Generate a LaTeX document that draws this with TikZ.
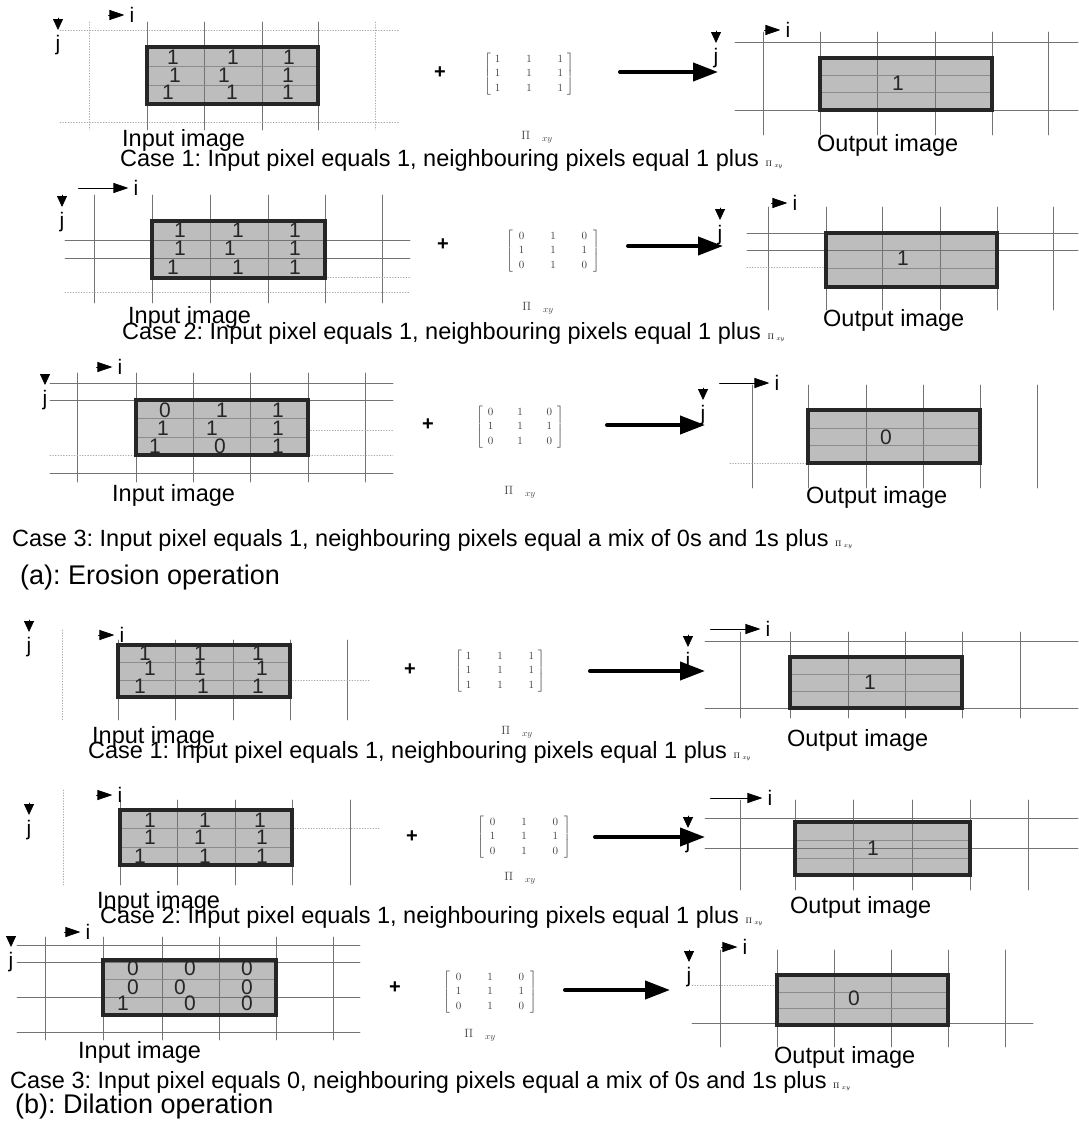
\documentclass[tikz,border=0pt]{standalone}
\usepackage{fontspec}
\setmainfont{Liberation Sans}
\usetikzlibrary{arrows.meta}
\frenchspacing

\begin{document}
\begin{tikzpicture}[x=1pt, y=-1pt, line cap=round,
    gline/.style={black!55, line width=0.7pt},
    fline/.style={black!35, line width=0.7pt, dotted},
    inline/.style={black!45, line width=0.5pt},
    boxfill/.style={fill=black!26},
    boxedge/.style={draw=black!85, line width=4.5pt, line cap=butt},
    lbl/.style={font=\fontsize{23.5}{26}\selectfont, inner sep=0pt, anchor=west},
    heading/.style={font=\fontsize{27}{30}\selectfont, inner sep=0pt, anchor=west},
    num/.style={font=\fontsize{21}{23}\selectfont, text=black!85, inner sep=0pt},
    axlbl/.style={font=\fontsize{21}{23}\selectfont, inner sep=5pt},
    plussign/.style={font=\fontsize{20}{20}\selectfont\bfseries, inner sep=0pt},
    mat/.style={font=\fontsize{11}{14.5}\selectfont, text=black!75, inner sep=0pt},
    pilbl/.style={font=\fontsize{13}{14}\selectfont, text=black!75, inner sep=0pt},
    iarrow/.style={line width=0.8pt, -{Triangle[length=15pt,width=10pt]}},
    jarrow/.style={line width=0.8pt, -{Triangle[length=11pt,width=10pt]}},
    bigarrow/.style={line width=4pt, -{Triangle[length=25pt,width=18pt]}}]

  \useasboundingbox (0,0) rectangle (1078,1123);

  % ================= (a) erosion, case 1 =================
  % input image
  \fill[boxfill] (147,47) rectangle (318,104);
  \foreach \x in {147,204,262,318} \draw[gline] (\x,22) -- (\x,130);
  \foreach \x in {89,375} \draw[fline] (\x,22) -- (\x,130);
  \foreach \y in {30,122} \draw[fline] (60,\y) -- (400,\y);
  \foreach \y in {66,85} \draw[inline] (147,\y) -- (318,\y);
  \draw[boxedge] (147,47) rectangle (318,104);
  \foreach \x/\y/\v [count=\k] in {173/57/1,233/57/1,289/57/1,175/75/1,224/75/1,288/75/1,168/92/1,232/92/1,288/92/1}
    \node[num] (a1n\k) at (\x,\y) {\v};
  \node[axlbl] (a1i) at (132,15) {i};
  \draw[iarrow] ([xshift=-16pt]a1i.west) -- (a1i.west);
  \node[axlbl] (a1j) at (58,45) {j};
  \draw[jarrow] ([yshift=12pt]a1j.north) -- (a1j.north);
  \node[lbl] (a1in) at (122,140) {Input image};
  \node[lbl] (a1cap) at (120,160) {Case 1: Input pixel equals 1, neighbouring pixels equal 1 plus {\fontsize{8}{8}\selectfont$\Pi\;_{xy}$}};
  % kernel
  \node[plussign] (a1plus) at (440,73) {+};
  \node[mat] (a1m) at (529,74) {$\left[\begin{array}{@{\hspace{4pt}}c@{\hspace{26pt}}c@{\hspace{26pt}}c@{\hspace{4pt}}}1&1&1\\1&1&1\\1&1&1\end{array}\right]$};
  \node[pilbl] (a1p) at (537,137) {$\Pi_{\hspace{12pt}xy}$};
  \coordinate (a1s) at (620,72);
  \coordinate (a1e) at (718,72);
  \draw[bigarrow] (a1s) -- (a1e);
  % output image
  \fill[boxfill] (820,58) rectangle (992,110);
  \foreach \x in {763,820,877,935,992,1048} \draw[gline] (\x,32) -- (\x,135);
  \foreach \y in {42,110} \draw[gline] (735,\y) -- (1078,\y);
  \foreach \y in {75,92} \draw[inline] (820,\y) -- (992,\y);
  \draw[boxedge] (820,58) rectangle (992,110);
  \node[num] (a1o) at (898,83) {1};
  \node[axlbl] (a1oi) at (788,30) {i};
  \draw[iarrow] ([xshift=-16pt]a1oi.west) -- (a1oi.west);
  \node[axlbl] (a1oj) at (716,58) {j};
  \draw[jarrow] ([yshift=12pt]a1oj.north) -- (a1oj.north);
  \node[lbl] (a1out) at (817,145) {Output image};

  % ================= (a) erosion, case 2 =================
  \fill[boxfill] (152,221) rectangle (325,278);
  \foreach \x in {94,152,210,268,325,382} \draw[gline] (\x,195) -- (\x,303);
  \foreach \y in {240,258} \draw[gline] (65,\y) -- (410,\y);
  \draw[fline] (325,277) -- (410,277);
  \draw[fline] (65,292) -- (410,292);
  \draw[boxedge] (152,221) rectangle (325,278);
  \foreach \x/\y/\v [count=\k] in {180/230/1,238/230/1,295/230/1,180/248/1,230/248/1,295/248/1,173/267/1,238/267/1,295/267/1}
    \node[num] (a2n\k) at (\x,\y) {\v};
  \node[axlbl] (a2i) at (136,188) {i};
  \draw[iarrow] ([xshift=-50pt]a2i.west) -- (a2i.west);
  \node[axlbl] (a2j) at (62,222) {j};
  \draw[jarrow] ([yshift=12pt]a2j.north) -- (a2j.north);
  \node[lbl] (a2in) at (128,317) {Input image};
  \node[lbl] (a2cap) at (122,333) {Case 2: Input pixel equals 1, neighbouring pixels equal 1 plus {\fontsize{8}{8}\selectfont$\Pi\;_{xy}$}};
  \node[plussign] (a2plus) at (443,245) {+};
  \node[mat] (a2m) at (553,251) {$\left[\begin{array}{@{\hspace{6pt}}c@{\hspace{26pt}}c@{\hspace{26pt}}c@{\hspace{6pt}}}0&1&0\\1&1&1\\0&1&0\end{array}\right]$};
  \node[pilbl] (a2p) at (538,308) {$\Pi_{\hspace{12pt}xy}$};
  \coordinate (a2s) at (628,246);
  \coordinate (a2e) at (723,246);
  \draw[bigarrow] (a2s) -- (a2e);
  \fill[boxfill] (826,233) rectangle (997,287);
  \foreach \x in {768,826,882,940,997,1053} \draw[gline] (\x,207) -- (\x,310);
  \foreach \y in {233,250} \draw[gline] (747,\y) -- (1078,\y);
  \draw[fline] (747,267) -- (826,267);
  \draw[inline] (826,268) -- (997,268);
  \draw[boxedge] (826,233) rectangle (997,287);
  \node[num] (a2o) at (903,258) {1};
  \node[axlbl] (a2oi) at (795,203) {i};
  \draw[iarrow] ([xshift=-16pt]a2oi.west) -- (a2oi.west);
  \node[axlbl] (a2oj) at (720,235) {j};
  \draw[jarrow] ([yshift=12pt]a2oj.north) -- (a2oj.north);
  \node[lbl] (a2out) at (823,320) {Output image};

  % ================= (a) erosion, case 3 =================
  \fill[boxfill] (136,400) rectangle (308,455);
  \foreach \x in {77,136,193,250,308,365} \draw[gline] (\x,373) -- (\x,482);
  \foreach \y in {383,400,473} \draw[gline] (50,\y) -- (393,\y);
  \foreach \y in {418,437} \draw[inline] (136,\y) -- (308,\y);
  \draw[fline] (308,430) -- (393,430);
  \draw[fline] (50,455) -- (393,455);
  \draw[boxedge] (136,400) rectangle (308,455);
  \foreach \x/\y/\v [count=\k] in {165/410/0,222/410/1,278/410/1,163/428/1,212/428/1,278/428/1,155/446/1,220/446/0,278/446/1}
    \node[num] (a3n\k) at (\x,\y) {\v};
  \node[axlbl] (a3i) at (120,367) {i};
  \draw[iarrow] ([xshift=-16pt]a3i.west) -- (a3i.west);
  \node[axlbl] (a3j) at (45,400) {j};
  \draw[jarrow] ([yshift=10pt]a3j.north) -- (a3j.north);
  \node[lbl] (a3in) at (112,495) {Input image};
  \node[plussign] (a3plus) at (428,425) {+};
  \node[mat] (a3m) at (520,427) {$\left[\begin{array}{@{\hspace{5pt}}c@{\hspace{24pt}}c@{\hspace{24pt}}c@{\hspace{5pt}}}0&1&0\\1&1&1\\0&1&0\end{array}\right]$};
  \node[pilbl] (a3p) at (520,492) {$\Pi_{\hspace{12pt}xy}$};
  \coordinate (a3s) at (607,425);
  \coordinate (a3e) at (705,425);
  \draw[bigarrow] (a3s) -- (a3e);
  \fill[boxfill] (808,410) rectangle (980,463);
  \foreach \x in {752,808,866,923,980,1037} \draw[gline] (\x,385) -- (\x,488);
  \foreach \y in {428,445} \draw[inline] (808,\y) -- (980,\y);
  \draw[fline] (730,463) -- (808,463);
  \draw[boxedge] (808,410) rectangle (980,463);
  \node[num] (a3o) at (886,437) {0};
  \node[axlbl] (a3oi) at (777,383) {i};
  \draw[iarrow] ([xshift=-50pt]a3oi.west) -- (a3oi.west);
  \node[axlbl] (a3oj) at (703,415) {j};
  \draw[jarrow] ([yshift=12pt]a3oj.north) -- (a3oj.north);
  \node[lbl] (a3out) at (806,497) {Output image};
  \node[lbl] (a3cap) at (12,540) {Case 3: Input pixel equals 1, neighbouring pixels equal a mix of 0s and 1s plus {\fontsize{8}{8}\selectfont$\Pi\;_{xy}$}};
  \node[heading] (erosion) at (20,578) {(a): Erosion operation};

  % ================= (b) dilation, case 1 =================
  \fill[boxfill] (118,645) rectangle (290,697);
  \foreach \x in {118,175,233,290,347} \draw[gline] (\x,640) -- (\x,720);
  \draw[fline] (62,630) -- (62,720);
  \foreach \y in {662,680} \draw[inline] (118,\y) -- (290,\y);
  \draw[fline] (290,680) -- (370,680);
  \draw[boxedge] (118,645) rectangle (290,697);
  \foreach \x/\y/\v [count=\k] in {145/653/1,200/653/1,258/653/1,150/668/1,200/668/1,262/668/1,140/686/1,203/686/1,258/686/1}
    \node[num] (b1n\k) at (\x,\y) {\v};
  \node[axlbl] (b1i) at (122,635) {i};
  \draw[iarrow] ([xshift=-16pt]b1i.west) -- (b1i.west);
  \node[axlbl] (b1j) at (29,647) {j};
  \draw[jarrow] ([yshift=12pt]b1j.north) -- (b1j.north);
  \node[lbl] (b1in) at (92,737) {Input image};
  \node[lbl] (b1cap) at (88,752) {Case 1: Input pixel equals 1, neighbouring pixels equal 1 plus {\fontsize{8}{8}\selectfont$\Pi\;_{xy}$}};
  \node[plussign] (b1plus) at (410,670) {+};
  \node[mat] (b1m) at (500,671) {$\left[\begin{array}{@{\hspace{4pt}}c@{\hspace{26pt}}c@{\hspace{26pt}}c@{\hspace{4pt}}}1&1&1\\1&1&1\\1&1&1\end{array}\right]$};
  \node[pilbl] (b1p) at (517,732) {$\Pi_{\hspace{12pt}xy}$};
  \coordinate (b1s) at (590,671);
  \coordinate (b1e) at (705,671);
  \draw[bigarrow] (b1s) -- (b1e);
  \fill[boxfill] (790,657) rectangle (962,708);
  \foreach \x in {740,790,848,905,962,1020} \draw[gline] (\x,632) -- (\x,718);
  \foreach \y in {641,708} \draw[gline] (705,\y) -- (1078,\y);
  \foreach \y in {674,691} \draw[inline] (790,\y) -- (962,\y);
  \draw[boxedge] (790,657) rectangle (962,708);
  \node[num] (b1o) at (870,682) {1};
  \node[axlbl] (b1oi) at (768,629) {i};
  \draw[iarrow] ([xshift=-50pt]b1oi.west) -- (b1oi.west);
  \node[axlbl] (b1oj) at (688,662) {j};
  \draw[jarrow] ([yshift=12pt]b1oj.north) -- (b1oj.north);
  \node[lbl] (b1out) at (787,740) {Output image};

  % ================= (b) dilation, case 2 =================
  \fill[boxfill] (120,810) rectangle (292,865);
  \foreach \x in {120,177,235,292,350} \draw[gline] (\x,800) -- (\x,885);
  \draw[fline] (63,790) -- (63,885);
  \foreach \y in {828,847} \draw[inline] (120,\y) -- (292,\y);
  \draw[fline] (292,828) -- (380,828);
  \draw[boxedge] (120,810) rectangle (292,865);
  \foreach \x/\y/\v [count=\k] in {150/820/1,205/820/1,260/820/1,150/837/1,200/837/1,262/837/1,140/856/1,205/856/1,262/856/1}
    \node[num] (b2n\k) at (\x,\y) {\v};
  \node[axlbl] (b2i) at (120,795) {i};
  \draw[iarrow] ([xshift=-16pt]b2i.west) -- (b2i.west);
  \node[axlbl] (b2j) at (29,830) {j};
  \draw[jarrow] ([yshift=12pt]b2j.north) -- (b2j.north);
  \node[lbl] (b2in) at (97,902) {Input image};
  \node[lbl] (b2cap) at (100,917) {Case 2: Input pixel equals 1, neighbouring pixels equal 1 plus {\fontsize{8}{8}\selectfont$\Pi\;_{xy}$}};
  \node[plussign] (b2plus) at (412,837) {+};
  \node[mat] (b2m) at (524,837) {$\left[\begin{array}{@{\hspace{6pt}}c@{\hspace{26pt}}c@{\hspace{26pt}}c@{\hspace{6pt}}}0&1&0\\1&1&1\\0&1&0\end{array}\right]$};
  \node[pilbl] (b2p) at (520,878) {$\Pi_{\hspace{12pt}xy}$};
  \coordinate (b2s) at (595,837);
  \coordinate (b2e) at (705,837);
  \draw[bigarrow] (b2s) -- (b2e);
  \fill[boxfill] (795,822) rectangle (970,875);
  \foreach \x in {740,795,853,912,970,1028} \draw[gline] (\x,800) -- (\x,890);
  \foreach \y in {818,848} \draw[gline] (705,\y) -- (1078,\y);
  \foreach \y in {840,858} \draw[inline] (795,\y) -- (970,\y);
  \draw[boxedge] (795,822) rectangle (970,875);
  \node[num] (b2o) at (873,848) {1};
  \node[axlbl] (b2oi) at (770,798) {i};
  \draw[iarrow] ([xshift=-52pt]b2oi.west) -- (b2oi.west);
  \node[axlbl] (b2oj) at (688,843) {j};
  \draw[jarrow] ([yshift=12pt]b2oj.north) -- (b2oj.north);
  \node[lbl] (b2out) at (790,907) {Output image};

  % ================= (b) dilation, case 3 =================
  \fill[boxfill] (103,960) rectangle (276,1015);
  \foreach \x in {45,103,162,219,276,333} \draw[gline] (\x,937) -- (\x,1040);
  \foreach \y in {945,962,997,1032} \draw[gline] (17,\y) -- (360,\y);
  \foreach \y in {979} \draw[inline] (103,\y) -- (276,\y);
  \draw[boxedge] (103,960) rectangle (276,1015);
  \foreach \x/\y/\v [count=\k] in {133/968/0,190/968/0,247/968/0,133/987/0,180/987/0,247/987/0,123/1003/1,190/1003/0,247/1003/0}
    \node[num] (b3n\k) at (\x,\y) {\v};
  \node[axlbl] (b3i) at (88,932) {i};
  \draw[iarrow] ([xshift=-16pt]b3i.west) -- (b3i.west);
  \node[axlbl] (b3j) at (11,962) {j};
  \draw[jarrow] ([yshift=10pt]b3j.north) -- (b3j.north);
  \node[lbl] (b3in) at (78,1052) {Input image};
  \node[plussign] (b3plus) at (395,988) {+};
  \node[mat] (b3m) at (490,992) {$\left[\begin{array}{@{\hspace{6pt}}c@{\hspace{26pt}}c@{\hspace{26pt}}c@{\hspace{6pt}}}0&1&0\\1&1&1\\0&1&0\end{array}\right]$};
  \node[pilbl] (b3p) at (480,1035) {$\Pi_{\hspace{12pt}xy}$};
  \coordinate (b3s) at (565,990);
  \coordinate (b3e) at (670,990);
  \draw[bigarrow] (b3s) -- (b3e);
  \fill[boxfill] (777,975) rectangle (948,1025);
  \foreach \x in {720,777,834,891,948,1005} \draw[gline] (\x,950) -- (\x,1047);
  \draw[gline] (692,1023) -- (1033,1023);
  \foreach \y in {992,1008} \draw[inline] (777,\y) -- (948,\y);
  \draw[fline] (692,985) -- (777,985);
  \draw[boxedge] (777,975) rectangle (948,1025);
  \node[num] (b3o) at (854,998) {0};
  \node[axlbl] (b3oi) at (745,947) {i};
  \draw[iarrow] ([xshift=-16pt]b3oi.west) -- (b3oi.west);
  \node[axlbl] (b3oj) at (689,977) {j};
  \draw[jarrow] ([yshift=12pt]b3oj.north) -- (b3oj.north);
  \node[lbl] (b3out) at (774,1057) {Output image};
  \node[lbl] (b3cap) at (10,1082) {Case 3: Input pixel equals 0, neighbouring pixels equal a mix of 0s and 1s plus {\fontsize{8}{8}\selectfont$\Pi\;_{xy}$}};
  \node[heading] (dilation) at (15,1107) {(b): Dilation operation};
\end{tikzpicture}
\end{document}
